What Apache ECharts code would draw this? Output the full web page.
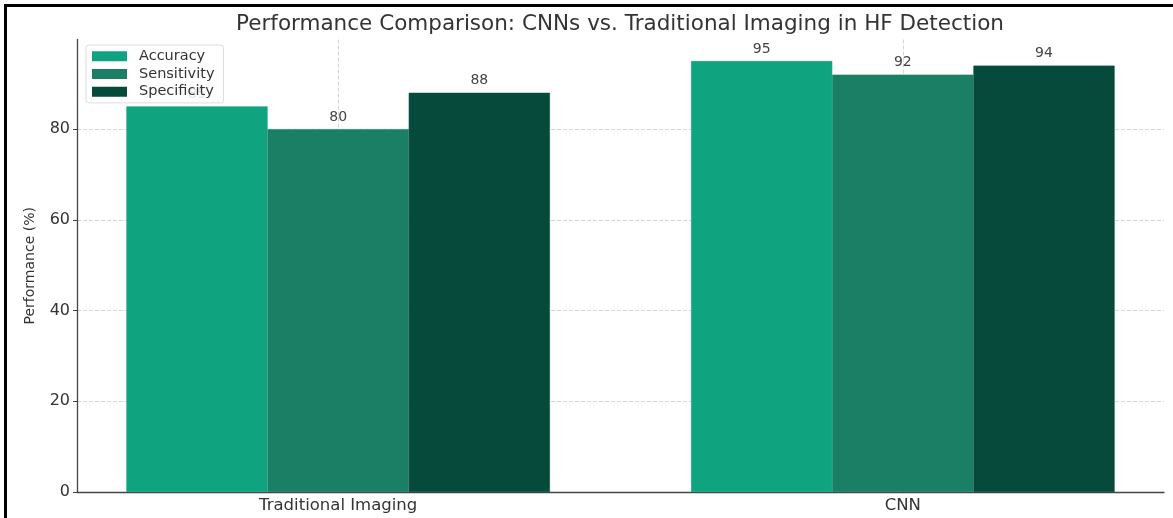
<!DOCTYPE html>
<html>
<head>
<meta charset="utf-8">
<title>Performance Comparison</title>
<script src="https://cdn.jsdelivr.net/npm/echarts@6/dist/echarts.min.js"></script>
<style>
  html, body { margin: 0; padding: 0; background: #fff; }
  #chart { width: 1173px; height: 518px; }
</style>
</head>
<body>
<div id="chart"></div>
<script>
// data
const categories = ['Traditional Imaging', 'CNN'];
const accuracy = [85, 95];
const sensitivity = [80, 92];
const specificity = [88, 94];
const yTicks = [0, 20, 40, 60, 80];

// colors
const colors = ['#10A37F', '#1A7F64', '#054A3A'];
const textColor = '#333333';
const gridColor = '#d4d4d4';
const font = 'DejaVu Sans';

const toPoints = (values) => values.map((v, i) => [i, v]);

const makeSeries = (name, values, color) => {
  return {
    name: name,
    type: 'bar',
    data: toPoints(values),
    barWidth: '25%',
    barGap: '0%',
    // thin same-colour border hides the antialias seam between bars
    itemStyle: { color: color, borderColor: color, borderWidth: 0.6 },
    label: {
      show: true,
      position: 'top',
      distance: 5,
      color: '#444',
      fontFamily: font,
      fontSize: 14,
      formatter: (p) => p.value[1],
    },
  };
};

const myChart = echarts.init(document.getElementById('chart'));
const option = {
  animation: false,
  title: {
    text: 'Performance Comparison: CNNs vs. Traditional Imaging in HF Detection',
    left: 620,
    top: 13,
    padding: 0,
    textAlign: 'center',
    textStyle: {
      color: textColor,
      fontFamily: font,
      fontWeight: 'normal',
      fontSize: 21.5,
    },
  },
  legend: {
    orient: 'vertical',
    left: 86,
    top: 45,
    padding: [3, 9, 3, 6],
    itemWidth: 33,
    itemHeight: 8,
    itemGap: 1.2,
    backgroundColor: 'rgba(255,255,255,0.85)',
    borderColor: '#dddddd',
    borderWidth: 1,
    borderRadius: 3,
    icon: 'rect',
    textStyle: {
      color: textColor,
      fontFamily: font,
      fontSize: 14.5,
      lineHeight: 16.5,
      padding: [0, 0, 0, 8],
    },
    data: ['Accuracy', 'Sensitivity', 'Specificity'],
  },
  grid: {
    left: 77,
    right: 9,
    top: 39.5,
    bottom: 26,
  },
  xAxis: {
    type: 'value',
    min: -0.4625,
    max: 1.4625,
    axisLine: { lineStyle: { color: '#444', width: 1.3 } },
    axisTick: {
      customValues: [0, 1],
      inside: true,
      length: 3,
      lineStyle: { color: '#444' },
    },
    axisLabel: {
      customValues: [0, 1],
      formatter: (v) => categories[Math.round(v)],
      color: textColor,
      fontFamily: font,
      fontSize: 16.5,
      margin: 5,
    },
    splitLine: {
      show: true,
      lineStyle: { color: gridColor, type: 'dashed', width: 1 },
    },
  },
  yAxis: {
    type: 'value',
    min: 0,
    max: 99.75,
    name: 'Performance (%)',
    nameLocation: 'middle',
    nameGap: 40,
    nameTextStyle: {
      color: textColor,
      fontFamily: font,
      fontSize: 14,
    },
    axisLine: { show: true, onZero: false, lineStyle: { color: '#444', width: 1.3 } },
    axisTick: {
      show: true,
      customValues: yTicks,
      length: 4,
      lineStyle: { color: '#444' },
    },
    axisLabel: {
      customValues: yTicks,
      color: textColor,
      fontFamily: font,
      fontSize: 16,
      margin: 7,
    },
    splitLine: {
      show: true,
      lineStyle: { color: gridColor, type: 'dashed', width: 1 },
    },
  },
  // image frame (top + left edge)
  graphic: [
    {
      type: 'rect',
      shape: { x: 5.5, y: 5.5, width: 1300, height: 700 },
      style: { fill: null, stroke: '#000', lineWidth: 3 },
      silent: true,
    },
  ],
  series: [
    makeSeries('Accuracy', accuracy, colors[0]),
    makeSeries('Sensitivity', sensitivity, colors[1]),
    makeSeries('Specificity', specificity, colors[2]),
  ],
};
myChart.setOption(option);
</script>
</body>
</html>
